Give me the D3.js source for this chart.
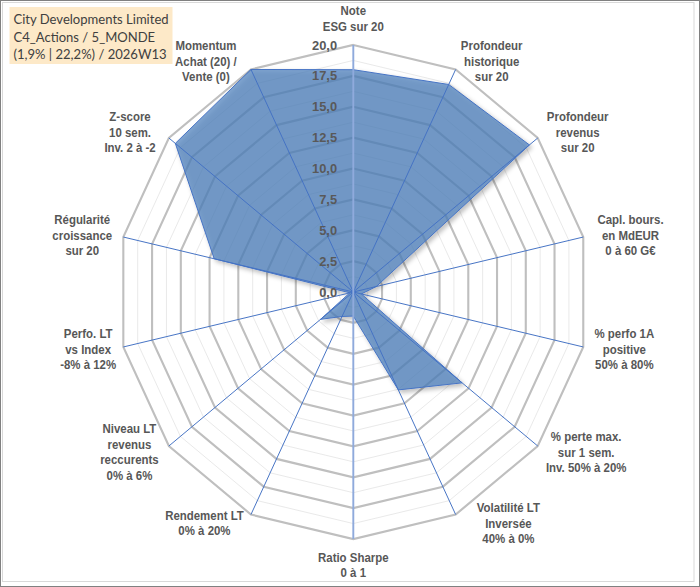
<!DOCTYPE html>
<html><head><meta charset="utf-8">
<script src="https://cdn.jsdelivr.net/npm/d3@7"></script>
<style>body{margin:0;background:#fff}svg{display:block}</style>
</head><body>
<script>
// ---- data ----
const categories = [
  "Note\nESG sur 20",
  "Profondeur\nhistorique\nsur 20",
  "Profondeur\nrevenus\nsur 20",
  "Capl. bours.\nen MdEUR\n0 à 60 G€",
  "% perfo 1A\npositive\n50% à 80%",
  "% perte max.\nsur 1 sem.\nInv. 50% à 20%",
  "Volatilité LT\nInversée\n40% à 0%",
  "Ratio Sharpe\n0 à 1",
  "Rendement LT\n0% à 20%",
  "Niveau LT\nrevenus\nreccurents\n0% à 6%",
  "Perfo. LT\nvs Index\n-8% à 12%",
  "Régularité\ncroissance\nsur 20",
  "Z-score\n10 sem.\nInv. 2 à -2",
  "Momentum\nAchat (20) /\nVente (0)"
];
const values = [18.0, 18.65, 19.1, 2.0, 0.7, 11.8, 8.8, 1.95, 2.2, 3.55, 0.3, 12.1, 19.3, 20.0];
const tickValues = [0, 2.5, 5, 7.5, 10, 12.5, 15, 17.5, 20];
const minorTicks = [1.25, 3.75, 6.25, 8.75, 11.25, 13.75, 16.25, 18.75];
const titleLines = ["City Developments Limited", "C4_Actions / 5_MONDE", "(1,9% | 22,2%) / 2026W13"];

// ---- layout ----
const W = 700, H = 587;
const sx = 0.955;              // horizontal compression of the original picture
const cx = 353.3 / sx, cy = 292, R = 247;
const n = categories.length;
// small horizontal label adjustments (px) to match the original label placement
const labelNudge = [0, -2, 2, 7, 4, 1, 14, 0, 0, -3, 0, -4, -6, -7];

const svg = d3.select("body").append("svg").attr("width", W).attr("height", H);
const defs = svg.append("defs");
const f = defs.append("filter").attr("id","sh").attr("x","-20%").attr("y","-20%").attr("width","140%").attr("height","140%");
f.append("feDropShadow").attr("dx",2.5).attr("dy",2.5).attr("stdDeviation",2).attr("flood-color","#000").attr("flood-opacity",0.33);

// frame
svg.append("rect").attr("x",0.5).attr("y",0.5).attr("width",W-1).attr("height",H-1)
  .attr("fill","#fff").attr("stroke","#808080");
svg.append("rect").attr("x",2.5).attr("y",2.5).attr("width",691.5).attr("height",579)
  .attr("fill","none").attr("stroke","#d9d9d9");

const g = svg.append("g").attr("transform", `scale(${sx},1)`);

const r = d3.scaleLinear().domain([0, 20]).range([0, R]);
const ang = d3.scaleLinear().domain([0, n]).range([0, 2 * Math.PI]);
const pt = (i, v) => [cx + r(v) * Math.sin(ang(i)), cy - r(v) * Math.cos(ang(i))];

const ring = d3.lineRadial().angle((d, i) => ang(i)).radius(d => r(d)).curve(d3.curveLinearClosed);
const gc = g.append("g").attr("transform", `translate(${cx},${cy})`);

// minor rings
gc.selectAll(".minor").data(minorTicks).join("path")
  .attr("d", t => ring(d3.range(n).map(() => t)))
  .attr("fill","none").attr("stroke","#e8e8e8").attr("stroke-width",1);
// major rings
gc.selectAll(".major").data(tickValues.filter(t => t > 0)).join("path")
  .attr("d", t => ring(d3.range(n).map(() => t)))
  .attr("fill","none").attr("stroke","#bfbfbf").attr("stroke-width",2.2);

// series polygon
gc.append("path")
  .attr("d", ring(values))
  .attr("fill","#4f81bd").attr("fill-opacity",0.72)
  .attr("stroke","#4472c4").attr("stroke-width",1)
  .attr("filter","url(#sh)");

// spokes
d3.range(n).forEach(i => {
  if (i === 0 || i === 7) return;
  const [x, y] = pt(i, 20);
  g.append("line").attr("x1",cx).attr("y1",cy).attr("x2",x).attr("y2",y)
    .attr("stroke","#4472c4").attr("stroke-width",1);
});
// value axis (vertical)
g.append("line").attr("x1",cx).attr("y1",pt(0,20)[1]).attr("x2",cx).attr("y2",pt(7,20)[1])
  .attr("stroke","#8faadc").attr("stroke-width",2);

// tick labels
const fmt = d3.format(".1f");
g.selectAll(".tick").data(tickValues).join("text")
  .attr("x", cx - 17).attr("y", t => cy - r(t))
  .attr("text-anchor","end").attr("dominant-baseline","central")
  .attr("font-family","Liberation Sans, Arial, sans-serif").attr("font-weight","bold")
  .attr("font-size",13.5).attr("fill","#595959")
  .text(t => fmt(t).replace(".", ","));

// category labels
const LH = 15.4, gap = 7.5;
categories.forEach((c, i) => {
  const lines = c.split("\n");
  const a = ang(i);
  const [vx, vy] = pt(i, 20);
  const t = g.append("text")
    .attr("font-family","Liberation Sans, Arial, sans-serif").attr("font-weight","bold")
    .attr("font-size",12).attr("fill","#575757").attr("text-anchor","middle");
  const ts = lines.map(l => t.append("tspan").text(l));
  let w = d3.max(ts, s => s.node().getComputedTextLength());
  let ccx, ccy;
  if (i === 0) { ccx = cx; ccy = vy - 26.5; }
  else if (i === 7) { ccx = cx; ccy = vy + 26; }
  else {
    const s = Math.sign(Math.sin(a));
    ccx = vx + s * (w / 2 + gap) + labelNudge[i] / sx;
    ccy = vy - 9.5 * Math.cos(a);
  }
  const y0 = ccy - (lines.length - 1) * LH / 2;
  ts.forEach((s, k) => s.attr("x", ccx).attr("y", y0 + k * LH).attr("dominant-baseline","central"));
});

// title box
g.append("rect").attr("x", 9.5 / sx).attr("y", 7).attr("width", 163 / sx).attr("height", 57)
  .attr("fill","#fde9c8");
const tt = g.selectAll(".title").data(titleLines).join("text")
  .attr("x", 13.5 / sx).attr("y", (d, i) => 19 + i * 17.5)
  .attr("dominant-baseline","central")
  .attr("font-family","Lato, Carlito, sans-serif").attr("font-size",14.5).attr("fill","#404040")
  .text(d => d);
// fit first line to the original width (Calibri-like narrow face)
const w0 = tt.nodes()[0].getComputedTextLength();
const fs = 14.5 * (155 / sx) / w0;
tt.attr("font-size", fs);
</script>
</body></html>
